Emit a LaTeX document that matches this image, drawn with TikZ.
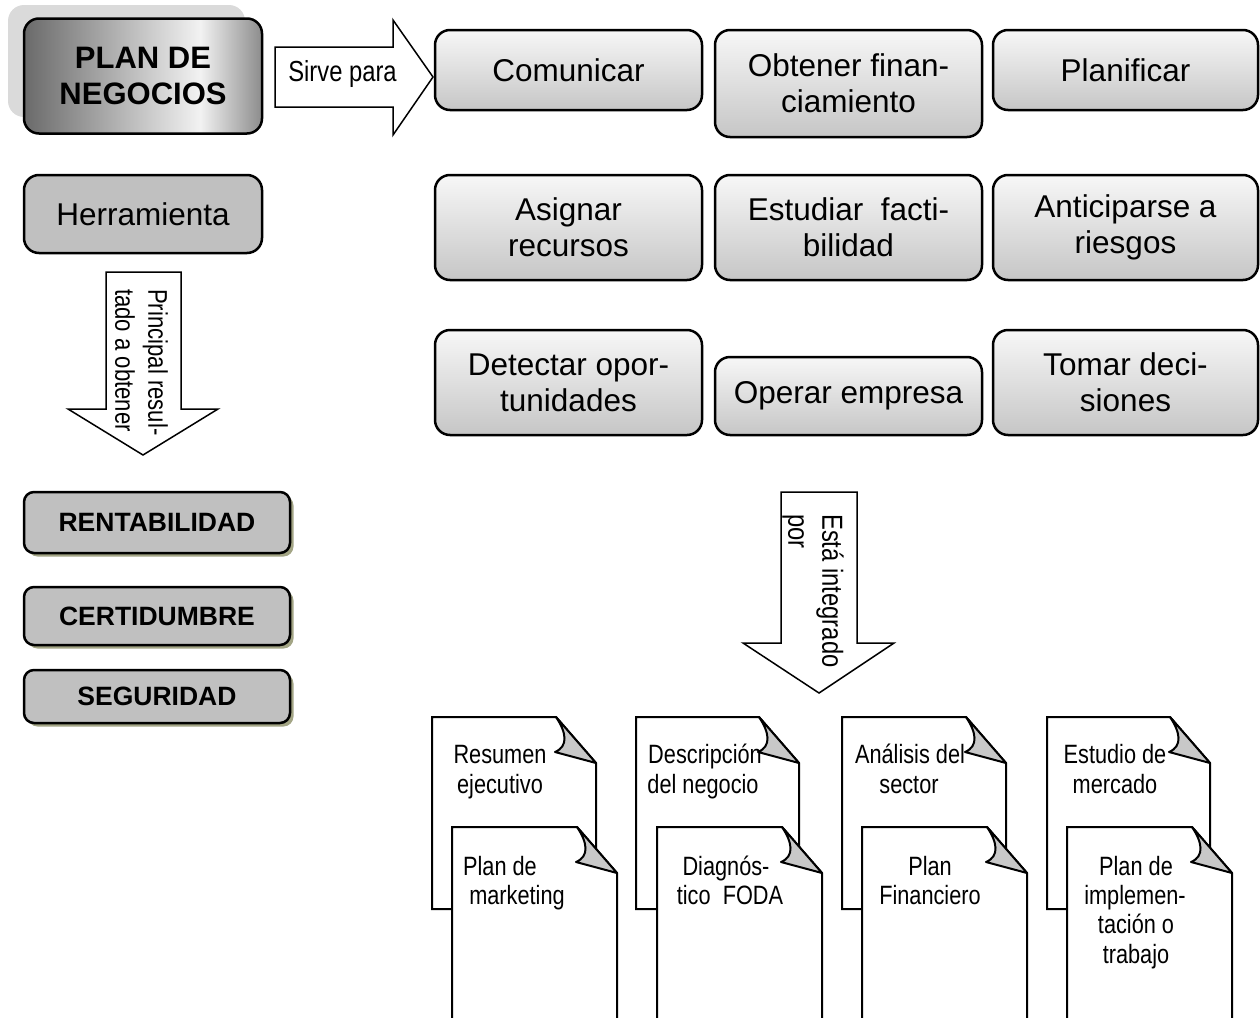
\documentclass[tikz,border=0pt]{standalone}
\usepackage{fontspec}
\setmainfont{Liberation Sans}
\newfontfamily\narrowfont[FakeStretch=0.82]{Liberation Sans}
\usetikzlibrary{shadows}
\definecolor{gtop}{HTML}{F7F7F7}
\definecolor{gbot}{HTML}{C6C6C6}
\definecolor{silverfill}{HTML}{C0C0C0}
\definecolor{pdark}{HTML}{6A6A6A}
\definecolor{plight}{HTML}{F2F2F2}
\definecolor{pright}{HTML}{8C8C8C}
\definecolor{backshadow}{HTML}{DADADA}
\definecolor{oliveshadow}{HTML}{A3A585}
\definecolor{foldgray}{HTML}{C8C8C8}
\pgfdeclarehorizontalshading{planshade}{100bp}{color(0bp)=(pdark); color(25bp)=(pdark); color(62bp)=(plight); color(75bp)=(pright); color(100bp)=(pright)}
\newcommand{\docpage}[4]{% xl, xr, top, bottom
  \filldraw[docline, fill=white] (#1,#3) -- (#2-40,#3) -- (#2,#3+46) -- (#2,#4) -- (#1,#4) -- cycle;
  \filldraw[docline, fill=foldgray, line join=round] (#2-40,#3) .. controls (#2-30,#3+15) and (#2-27,#3+29) .. (#2-41,#3+35) -- (#2,#3+46) -- cycle;
}
\tikzset{
  gbox/.style={draw=black, line width=2.5pt, rounded corners=15pt, top color=gtop, bottom color=gbot,
    align=center, inner sep=0pt, font=\fontsize{31.5}{36}\selectfont},
  flatbox/.style={draw=black, line width=2.5pt, rounded corners=15pt, fill=silverfill,
    align=center, inner sep=0pt, font=\fontsize{31.5}{36}\selectfont},
  resbox/.style={draw=black, line width=2.5pt, rounded corners=10pt, fill=silverfill,
    drop shadow={shadow xshift=3.5pt, shadow yshift=-3.5pt, fill=oliveshadow, opacity=1},
    align=center, inner sep=0pt, font=\fontsize{26.5}{30}\bfseries},
  blockarrow/.style={draw=black, line width=1.5pt, fill=white, line join=miter},
  docline/.style={draw=black, line width=2pt},
  arrowtext/.style={inner sep=0pt, align=left, font=\narrowfont\fontsize{27}{33}\selectfont},
  doctext/.style={inner sep=0pt, anchor=base, font=\narrowfont\fontsize{26.5}{30}\selectfont},
}
\begin{document}
\begin{tikzpicture}[x=1pt, y=-1pt]
\useasboundingbox (0,0) rectangle (1260,1017);

% ---------- PLAN DE NEGOCIOS ----------
\fill[backshadow, rounded corners=16pt] (8,5) rectangle (245,117);
\node[draw=black, line width=2.5pt, rounded corners=15pt, shading=planshade,
      minimum width=238pt, minimum height=115pt, inner sep=0pt, align=center,
      font=\fontsize{31}{36}\bfseries] (plan) at (143,76) {PLAN DE\\NEGOCIOS};

% Sirve para arrow
\draw[blockarrow] (275,47) -- (393,47) -- (393,20) -- (433,77) -- (393,135) -- (393,107) -- (275,107) -- cycle;
\node[inner sep=0pt, font=\narrowfont\fontsize{29}{33}\selectfont] (sirve) at (342.5,74) {Sirve para};

% ---------- grid of uses ----------
\node[gbox, minimum width=267pt, minimum height=80pt]  (comunicar)  at (568.5,70)   {Comunicar};
\node[gbox, minimum width=267pt, minimum height=107pt] (obtener)    at (848.5,83.5) {Obtener finan-\\ciamiento};
\node[gbox, minimum width=265pt, minimum height=80pt]  (planificar) at (1125.5,70)  {Planificar};

\node[gbox, minimum width=267pt, minimum height=105pt] (asignar)    at (568.5,227.5)  {Asignar\\recursos};
\node[gbox, minimum width=267pt, minimum height=105pt] (estudiar)   at (848.5,227.5)  {Estudiar\ \ facti-\\bilidad};
\node[gbox, minimum width=265pt, minimum height=105pt] (anticipar)  at (1125.5,227.5) {Anticiparse a\\riesgos};

\node[gbox, minimum width=267pt, minimum height=105pt] (detectar)   at (568.5,382.5)  {Detectar opor-\\tunidades};
\node[gbox, minimum width=267pt, minimum height=78pt]  (operar)     at (848.5,396)    {Operar empresa};
\node[gbox, minimum width=265pt, minimum height=105pt] (tomar)      at (1125.5,382.5) {Tomar deci-\\siones};

% ---------- left column ----------
\node[flatbox, minimum width=238pt, minimum height=78pt] (herr) at (143,214) {Herramienta};

\draw[blockarrow] (106,272) -- (181,272) -- (181,409) -- (218,409) -- (143,455) -- (68,409) -- (106,409) -- cycle;
\node[arrowtext, rotate=-90, anchor=west] (principal) at (141.5,289) {Principal resul-\\tado a obtener};

\node[resbox, minimum width=266pt, minimum height=61pt] (rent) at (157,522.5) {RENTABILIDAD};
\node[resbox, minimum width=266pt, minimum height=58pt] (cert) at (157,616)   {CERTIDUMBRE};
\node[resbox, minimum width=266pt, minimum height=53pt] (seg)  at (157,696.5) {SEGURIDAD};

% ---------- Está integrado por ----------
\draw[blockarrow] (781,492) -- (857,492) -- (857,643) -- (894,643) -- (819,693) -- (743,643) -- (781,643) -- cycle;
\node[arrowtext, rotate=-90, anchor=west, font=\narrowfont\fontsize{29}{34}\selectfont] (integrado) at (813,514) {Está integrado\\por};

% ---------- documents ----------
\begin{scope}
\clip (0,0) rectangle (1260,1017);
\docpage{432}{596}{717}{909}
\docpage{452}{617}{827}{1030}
\docpage{636}{799}{717}{909}
\docpage{657}{822}{827}{1030}
\docpage{842}{1006}{717}{909}
\docpage{862}{1027}{827}{1030}
\docpage{1047}{1210}{717}{909}
\docpage{1067}{1232}{827}{1030}
\end{scope}

\node[doctext] (d1a) at (500,763) {Resumen};
\node[doctext] (d1b) at (500,793) {ejecutivo};
\node[doctext] (d2a) at (705,763) {Descripción};
\node[doctext] (d2b) at (703,793) {del negocio};
\node[doctext] (d3a) at (910,763) {Análisis del};
\node[doctext] (d3b) at (909,793) {sector};
\node[doctext] (d4a) at (1115,763) {Estudio de};
\node[doctext] (d4b) at (1115,793) {mercado};

\node[doctext] (f1a) at (500,875) {Plan de};
\node[doctext] (f1b) at (517,904) {marketing};
\node[doctext] (f2a) at (726,875) {Diagnós-};
\node[doctext] (f2b) at (730,904) {tico\ \ FODA};
\node[doctext] (f3a) at (930,875) {Plan};
\node[doctext] (f3b) at (930,904) {Financiero};
\node[doctext] (f4a) at (1136,875) {Plan de};
\node[doctext] (f4b) at (1135,904) {implemen-};
\node[doctext] (f4c) at (1136,933) {tación o};
\node[doctext] (f4d) at (1136,963) {trabajo};
\end{tikzpicture}
\end{document}
